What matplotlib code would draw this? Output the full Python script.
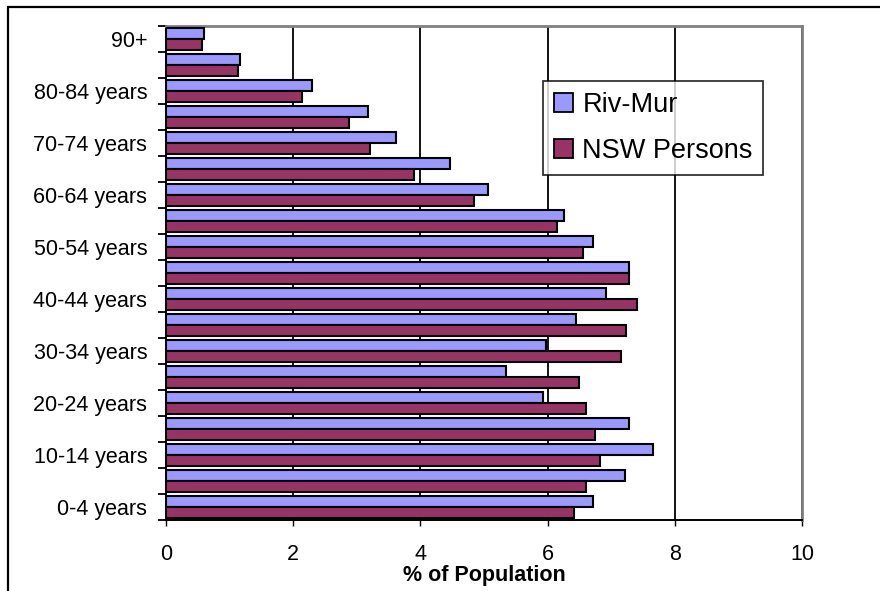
import numpy as np
import matplotlib.pyplot as plt
from matplotlib.patches import Rectangle
from matplotlib.ticker import FixedLocator

plt.rcParams['font.family'] = ['Liberation Sans', 'DejaVu Sans']

# ── Data (bottom → top) ──────────────────────────────────────
age_groups = ['0-4 years', '5-9 years', '10-14 years', '15-19 years', '20-24 years',
              '25-29 years', '30-34 years', '35-39 years', '40-44 years', '45-49 years',
              '50-54 years', '55-59 years', '60-64 years', '65-69 years', '70-74 years',
              '75-79 years', '80-84 years', '85-89 years', '90+']
riv_mur = [6.71, 7.21, 7.65, 7.28, 5.92, 5.35, 5.98, 6.45, 6.92, 7.28,
           6.71, 6.26, 5.07, 4.47, 3.62, 3.18, 2.29, 1.16, 0.59]
nsw     = [6.42, 6.61, 6.83, 6.75, 6.61, 6.49, 7.15, 7.24, 7.40, 7.28,
           6.55, 6.14, 4.85, 3.90, 3.21, 2.87, 2.14, 1.13, 0.56]
x_ticks = [0, 2, 4, 6, 8, 10]

BLUE   = '#9999FF'
MAROON = '#993366'

W, H = 880, 591
fig = plt.figure(figsize=(W / 100, H / 100), dpi=100)
ax = fig.add_axes([166 / W, 1 - 520 / H, (802 - 166) / W, (520 - 26) / H])

# outer chart border (runs off the right and bottom edges)
fig.patches.append(Rectangle((8 / W, -0.1), 1.2, 1 - 7 / H + 0.1,
                             transform=fig.transFigure, fill=False,
                             edgecolor='black', linewidth=1.6, clip_on=False))

y = np.arange(len(age_groups))
h = 0.42
ax.barh(y + h / 2, riv_mur, height=h, color=BLUE, edgecolor='black',
        linewidth=1.5, label='Riv-Mur', zorder=3)
ax.barh(y - h / 2, nsw, height=h, color=MAROON, edgecolor='black',
        linewidth=1.5, label='NSW Persons', zorder=3)

ax.set_xlim(0, 10)
ax.set_ylim(-0.5, len(age_groups) - 0.5)

ax.set_xticks(x_ticks)
ax.set_xticklabels([str(v) for v in x_ticks], fontsize=15.5)
ax.tick_params(axis='x', length=4, width=1, pad=13, direction='out')
ax.xaxis.grid(True, color='black', linewidth=1.3, zorder=0)

# y: ticks at category boundaries, labels at every other category centre
ax.yaxis.set_major_locator(FixedLocator(np.arange(-0.5, len(age_groups), 1.0)))
ax.set_yticklabels([])
ax.tick_params(axis='y', which='major', length=6, width=1.3, direction='out')
lab_pos = y[::2]
ax.yaxis.set_minor_locator(FixedLocator(lab_pos))
ax.set_yticklabels([age_groups[i] for i in lab_pos], minor=True, fontsize=15.5)
ax.tick_params(axis='y', which='minor', length=0, pad=13.5)

for s in ['left', 'bottom']:
    ax.spines[s].set_color('black')
    ax.spines[s].set_linewidth(1.4)
for s in ['top', 'right']:
    ax.spines[s].set_color('#808080')
    ax.spines[s].set_linewidth(2)

ax.set_xlabel('% of Population', fontsize=15.5, fontweight='bold', labelpad=0)

leg = ax.legend(loc='upper left', bbox_to_anchor=((543 - 166) / 636, 1 - (81 - 26) / 494),
                fontsize=19.5, frameon=True, fancybox=False, borderaxespad=0,
                handlelength=0.7, handleheight=0.7, handletextpad=0.35,
                labelspacing=0.75, borderpad=0.4)
leg.get_frame().set_edgecolor('black')
leg.get_frame().set_linewidth(1.3)
for p in leg.get_patches():
    p.set_linewidth(1.3)

plt.savefig('out.png', dpi=100)
